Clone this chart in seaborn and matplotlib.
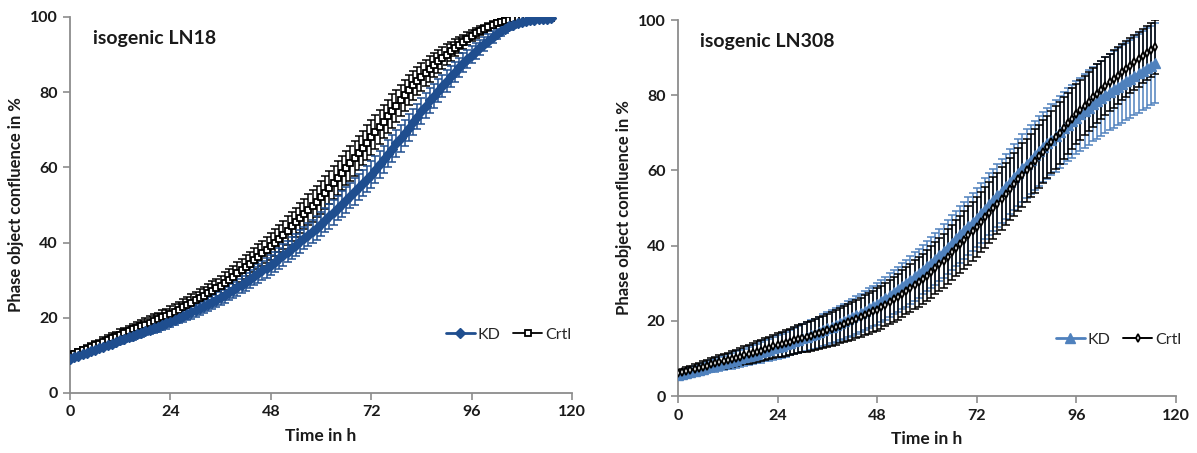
"""
Confluence growth curves for isogenic LN18 and LN308 (KD vs Crtl).
"""

import matplotlib
matplotlib.use("Agg")
import matplotlib.pyplot as plt
import seaborn as sns
import pandas as pd

# time points (h), one reading per hour
time_h = list(range(0, 116))

# ---- isogenic LN18 ----
ln18_kd_mean = [
    9.0, 9.5, 9.9, 10.3, 10.7, 11.1, 11.5, 11.9, 12.3, 12.7, 13.1, 13.5,
    14.0, 14.4, 14.8, 15.2, 15.6, 16.0, 16.4, 16.8, 17.2, 17.6, 18.1, 18.5,
    19.0, 19.5, 20.0, 20.5, 21.0, 21.5, 22.0, 22.5, 23.0, 23.6, 24.2, 24.8,
    25.5, 26.1, 26.8, 27.4, 28.1, 28.8, 29.5, 30.2, 31.0, 31.8, 32.6, 33.3,
    34.0, 34.9, 35.8, 36.7, 37.6, 38.5, 39.4, 40.3, 41.2, 42.1, 43.0, 44.0,
    45.0, 46.0, 47.0, 48.1, 49.2, 50.3, 51.4, 52.5, 53.6, 54.7, 55.8, 56.9,
    58.0, 59.4, 60.8, 62.2, 63.6, 65.0, 66.4, 67.8, 69.2, 70.6, 72.0, 73.5,
    75.0, 76.4, 77.8, 79.1, 80.4, 81.7, 83.0, 84.2, 85.4, 86.6, 87.8, 88.9,
    90.0, 91.0, 91.9, 92.8, 93.7, 94.6, 95.5, 96.2, 96.9, 97.5, 98.0, 98.3,
    98.6, 98.9, 99.1, 99.3, 99.4, 99.5, 99.5, 99.6,
]
ln18_kd_sd = [
    0.5, 0.5, 0.5, 0.6, 0.6, 0.6, 0.7, 0.7, 0.7, 0.8, 0.8, 0.8,
    0.9, 0.9, 1.0, 1.0, 1.0, 1.1, 1.1, 1.2, 1.2, 1.3, 1.3, 1.4,
    1.4, 1.5, 1.5, 1.6, 1.6, 1.7, 1.7, 1.8, 1.8, 1.9, 1.9, 2.0,
    2.0, 2.1, 2.1, 2.2, 2.2, 2.3, 2.3, 2.4, 2.4, 2.5, 2.5, 2.6,
    2.6, 2.7, 2.7, 2.8, 2.8, 2.9, 2.9, 3.0, 3.0, 3.1, 3.1, 3.2,
    3.2, 3.2, 3.3, 3.3, 3.3, 3.4, 3.4, 3.4, 3.5, 3.5, 3.5, 3.5,
    3.6, 3.6, 3.6, 3.6, 3.6, 3.6, 3.6, 3.6, 3.5, 3.5, 3.5, 3.4,
    3.4, 3.3, 3.3, 3.2, 3.1, 3.0, 2.9, 2.8, 2.7, 2.6, 2.5, 2.4,
    2.3, 2.2, 2.0, 1.9, 1.7, 1.6, 1.4, 1.3, 1.1, 1.0, 0.9, 0.8,
    0.7, 0.6, 0.5, 0.5, 0.4, 0.4, 0.4, 0.4,
]
ln18_crtl_mean = [
    10.0, 10.4, 10.9, 11.3, 11.8, 12.2, 12.7, 13.1, 13.6, 14.1, 14.6, 15.0,
    15.5, 16.0, 16.4, 16.9, 17.3, 17.8, 18.2, 18.7, 19.2, 19.6, 20.1, 20.5,
    21.0, 21.6, 22.2, 22.8, 23.4, 24.0, 24.6, 25.2, 25.9, 26.5, 27.2, 27.8,
    28.5, 29.3, 30.1, 30.9, 31.8, 32.6, 33.5, 34.4, 35.3, 36.2, 37.1, 38.0,
    39.0, 40.0, 41.0, 42.1, 43.2, 44.3, 45.4, 46.5, 47.6, 48.7, 49.8, 50.9,
    52.0, 53.3, 54.6, 55.9, 57.2, 58.5, 59.8, 61.1, 62.4, 63.8, 65.2, 66.6,
    68.0, 69.4, 70.8, 72.2, 73.6, 75.0, 76.4, 77.8, 79.2, 80.6, 81.8, 83.0,
    84.0, 85.1, 86.2, 87.2, 88.2, 89.1, 90.0, 90.9, 91.8, 92.6, 93.4, 94.2,
    95.0, 95.7, 96.3, 96.9, 97.4, 97.9, 98.3, 98.7, 99.0, 99.2, 99.4, 99.5,
    99.5, 99.6, 99.6, 99.6, 99.7, 99.7, 99.7, 99.7,
]
ln18_crtl_sd = [
    0.8, 0.8, 0.9, 0.9, 1.0, 1.0, 1.1, 1.1, 1.2, 1.2, 1.3, 1.3,
    1.4, 1.4, 1.5, 1.5, 1.6, 1.6, 1.7, 1.7, 1.8, 1.8, 1.9, 1.9,
    2.0, 2.0, 2.1, 2.1, 2.2, 2.2, 2.3, 2.4, 2.4, 2.5, 2.6, 2.6,
    2.7, 2.8, 2.8, 2.9, 3.0, 3.0, 3.1, 3.2, 3.2, 3.3, 3.4, 3.4,
    3.5, 3.6, 3.6, 3.7, 3.8, 3.8, 3.9, 4.0, 4.0, 4.1, 4.2, 4.2,
    4.3, 4.3, 4.4, 4.4, 4.5, 4.5, 4.5, 4.6, 4.6, 4.6, 4.6, 4.6,
    4.6, 4.6, 4.5, 4.5, 4.4, 4.4, 4.3, 4.2, 4.1, 4.0, 3.9, 3.8,
    3.7, 3.5, 3.4, 3.2, 3.0, 2.9, 2.7, 2.5, 2.3, 2.1, 1.9, 1.7,
    1.5, 1.4, 1.2, 1.1, 1.0, 0.9, 0.8, 0.7, 0.6, 0.6, 0.5, 0.5,
    0.5, 0.5, 0.4, 0.4, 0.4, 0.4, 0.4, 0.4,
]

# ---- isogenic LN308 ----
ln308_kd_mean = [
    5.5, 5.8, 6.1, 6.4, 6.7, 7.0, 7.3, 7.6, 7.9, 8.2, 8.5, 8.8,
    9.1, 9.4, 9.7, 10.0, 10.3, 10.7, 11.0, 11.3, 11.6, 12.0, 12.3, 12.7,
    13.0, 13.4, 13.8, 14.2, 14.6, 15.0, 15.4, 15.8, 16.2, 16.6, 17.0, 17.5,
    18.0, 18.4, 18.9, 19.4, 19.9, 20.4, 20.9, 21.5, 22.1, 22.7, 23.3, 23.9,
    24.5, 25.2, 26.0, 26.8, 27.6, 28.4, 29.2, 30.0, 30.9, 31.8, 32.7, 33.6,
    34.5, 35.5, 36.5, 37.5, 38.6, 39.7, 40.8, 41.9, 43.0, 44.1, 45.2, 46.3,
    47.4, 48.6, 49.8, 51.0, 52.2, 53.4, 54.6, 55.8, 57.0, 58.2, 59.4, 60.6,
    61.8, 62.9, 64.0, 65.1, 66.2, 67.2, 68.2, 69.2, 70.2, 71.2, 72.2, 73.1,
    74.0, 74.9, 75.8, 76.7, 77.6, 78.4, 79.2, 80.0, 80.8, 81.6, 82.3, 83.0,
    83.7, 84.4, 85.1, 85.8, 86.5, 87.2, 87.9, 88.6,
]
ln308_kd_sd = [
    0.8, 0.9, 1.0, 1.1, 1.2, 1.3, 1.4, 1.5, 1.6, 1.7, 1.8, 1.9,
    2.0, 2.1, 2.2, 2.2, 2.3, 2.4, 2.5, 2.6, 2.7, 2.8, 2.9, 3.0,
    3.1, 3.2, 3.3, 3.4, 3.5, 3.6, 3.7, 3.8, 3.9, 4.0, 4.1, 4.2,
    4.3, 4.4, 4.5, 4.6, 4.7, 4.8, 4.9, 5.0, 5.1, 5.2, 5.3, 5.4,
    5.5, 5.6, 5.7, 5.8, 5.9, 6.0, 6.1, 6.2, 6.3, 6.4, 6.5, 6.6,
    6.7, 6.8, 6.9, 7.0, 7.1, 7.2, 7.3, 7.4, 7.5, 7.6, 7.7, 7.8,
    7.9, 8.0, 8.1, 8.2, 8.3, 8.4, 8.5, 8.6, 8.7, 8.8, 8.9, 9.0,
    9.1, 9.2, 9.2, 9.3, 9.3, 9.4, 9.4, 9.5, 9.5, 9.6, 9.6, 9.7,
    9.7, 9.8, 9.8, 9.9, 9.9, 10.0, 10.0, 10.1, 10.1, 10.2, 10.2, 10.3,
    10.3, 10.4, 10.4, 10.5, 10.5, 10.6, 10.6, 10.7,
]
ln308_crtl_mean = [
    6.0, 6.3, 6.6, 6.9, 7.2, 7.5, 7.8, 8.1, 8.4, 8.7, 9.0, 9.2,
    9.5, 9.8, 10.1, 10.5, 10.8, 11.1, 11.4, 11.8, 12.1, 12.5, 12.8, 13.2,
    13.5, 13.8, 14.1, 14.4, 14.8, 15.1, 15.4, 15.7, 16.0, 16.4, 16.8, 17.1,
    17.5, 17.9, 18.3, 18.7, 19.1, 19.6, 20.0, 20.5, 21.0, 21.5, 22.0, 22.5,
    23.0, 23.6, 24.3, 25.0, 25.7, 26.4, 27.2, 28.0, 28.8, 29.6, 30.4, 31.2,
    32.0, 33.0, 34.0, 35.0, 36.0, 37.1, 38.2, 39.3, 40.4, 41.5, 42.7, 43.8,
    45.0, 46.2, 47.5, 48.7, 50.0, 51.2, 52.5, 53.8, 55.0, 56.3, 57.6, 58.8,
    60.0, 61.3, 62.5, 63.8, 65.0, 66.3, 67.5, 68.8, 70.0, 71.3, 72.5, 73.8,
    75.0, 76.1, 77.2, 78.3, 79.4, 80.4, 81.4, 82.4, 83.4, 84.3, 85.2, 86.1,
    87.0, 87.9, 88.8, 89.6, 90.4, 91.2, 92.0, 92.8,
]
ln308_crtl_sd = [
    0.8, 0.9, 1.0, 1.1, 1.2, 1.3, 1.4, 1.5, 1.6, 1.7, 1.8, 1.9,
    2.0, 2.1, 2.2, 2.3, 2.4, 2.5, 2.6, 2.7, 2.8, 2.9, 3.0, 3.1,
    3.2, 3.3, 3.4, 3.5, 3.6, 3.7, 3.8, 3.9, 4.0, 4.1, 4.2, 4.3,
    4.4, 4.5, 4.6, 4.7, 4.8, 4.9, 5.0, 5.1, 5.2, 5.3, 5.4, 5.5,
    5.6, 5.7, 5.8, 5.9, 6.0, 6.1, 6.2, 6.3, 6.4, 6.5, 6.6, 6.7,
    6.8, 6.9, 7.0, 7.1, 7.2, 7.3, 7.4, 7.5, 7.6, 7.7, 7.8, 7.9,
    8.0, 8.0, 8.1, 8.1, 8.2, 8.2, 8.3, 8.3, 8.3, 8.4, 8.4, 8.4,
    8.4, 8.4, 8.4, 8.4, 8.4, 8.3, 8.3, 8.3, 8.2, 8.2, 8.1, 8.1,
    8.0, 8.0, 7.9, 7.9, 7.8, 7.8, 7.7, 7.7, 7.6, 7.6, 7.5, 7.5,
    7.4, 7.4, 7.3, 7.3, 7.2, 7.2, 7.1, 7.1,
]

x_ticks = [0, 24, 48, 72, 96, 120]
y_ticks = [0, 20, 40, 60, 80, 100]

sns.set_style("white")
plt.rcParams["font.family"] = ["Lato", "DejaVu Sans"]

AXIS_GREY = "#8c8c8c"
TEXT_COL = "#1a1a1a"


def draw_series(ax, mean, sd, label, color, marker, msize, face, lw, mew):
    df = pd.DataFrame({"t": time_h, "mean": mean})
    ax.errorbar(time_h, mean, yerr=sd, fmt="none", ecolor=color,
                elinewidth=1.1, capsize=2.6, capthick=1.1, zorder=2)
    sns.lineplot(data=df, x="t", y="mean", ax=ax, color=color, label=label,
                 marker=marker, markersize=msize, markerfacecolor=face,
                 markeredgecolor=color, markeredgewidth=mew, linewidth=lw,
                 zorder=3)


def style_axes(ax, title):
    ax.set_xlim(0, 120)
    ax.set_ylim(0, 100)
    ax.set_xticks(x_ticks)
    ax.set_yticks(y_ticks)
    for side in ("top", "right"):
        ax.spines[side].set_visible(False)
    for side in ("left", "bottom"):
        ax.spines[side].set_color(AXIS_GREY)
        ax.spines[side].set_linewidth(1.3)
    ax.tick_params(axis="both", direction="out", length=5, width=1.2,
                   color=AXIS_GREY, labelsize=11.5, labelcolor=TEXT_COL,
                   bottom=True, left=True, pad=4)
    for lbl in ax.get_xticklabels() + ax.get_yticklabels():
        lbl.set_fontweight("bold")
    ax.set_xlabel("Time in h", fontsize=12.5, fontweight="bold",
                  color=TEXT_COL, labelpad=6)
    ax.set_ylabel("Phase object confluence in %", fontsize=12,
                  fontweight="bold", color=TEXT_COL, labelpad=4)
    ax.text(0.045, 0.965, title, transform=ax.transAxes, fontsize=14,
            fontweight="bold", color=TEXT_COL, va="top", ha="left")


fig = plt.figure(figsize=(11.97, 4.53), dpi=100)
ax1 = fig.add_axes([0.0585, 0.1325, 0.4194, 0.830])
ax2 = fig.add_axes([0.5664, 0.1258, 0.4160, 0.830])

# LN18: control first, knockdown on top
draw_series(ax1, ln18_crtl_mean, ln18_crtl_sd, "Crtl", "black", "s", 4, "white",
            1.3, 1.3)
draw_series(ax1, ln18_kd_mean, ln18_kd_sd, "KD", "#1f4e8f", "D", 5.5, "#1f4e8f",
            2.0, 1.0)
style_axes(ax1, "isogenic LN18")
h, l = ax1.get_legend_handles_labels()
ax1.legend(h[::-1], l[::-1], ncol=2, frameon=False, loc="center left",
           bbox_to_anchor=(0.72, 0.155), fontsize=11.5, handlelength=1.8,
           handletextpad=0.2, columnspacing=0.8)

# LN308: knockdown first, control on top
draw_series(ax2, ln308_kd_mean, ln308_kd_sd, "KD", "#4f81bd", "^", 6.5, "#4f81bd",
            2.0, 1.0)
draw_series(ax2, ln308_crtl_mean, ln308_crtl_sd, "Crtl", "black", "d", 4, "white",
            1.4, 1.3)
style_axes(ax2, "isogenic LN308")
ax2.legend(ncol=2, frameon=False, loc="center left",
           bbox_to_anchor=(0.73, 0.15), fontsize=11.5, handlelength=1.8,
           handletextpad=0.2, columnspacing=0.8)

fig.savefig("out.png", dpi=100)
plt.close(fig)
